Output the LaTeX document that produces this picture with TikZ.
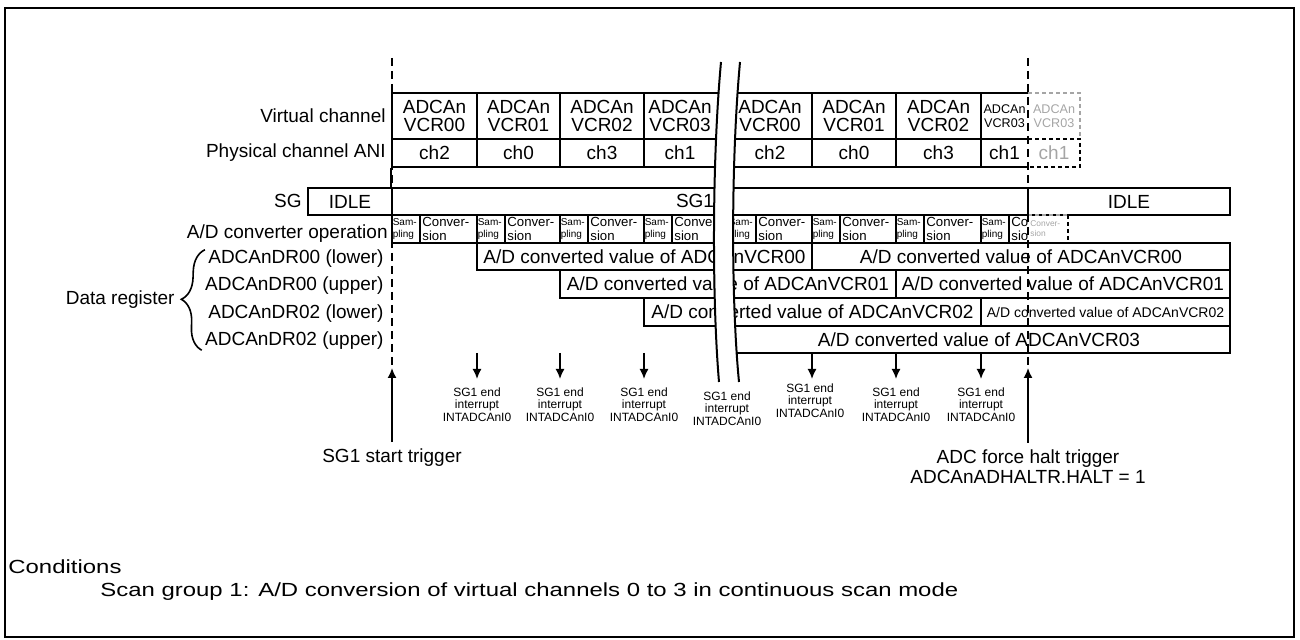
\documentclass[tikz,border=0pt]{standalone}
\usepackage{fontspec}
\setmainfont{Liberation Sans}
\usepackage{graphicx}
\usepackage{tikz}
\usetikzlibrary{arrows.meta,positioning,fit,decorations.pathreplacing}
\usepackage{xcolor}
\definecolor{ghostgray}{RGB}{165,165,165}
\newcommand{\widetxt}[1]{\scalebox{1.26}[1]{#1}}

\begin{document}
\begin{tikzpicture}[x=0.5pt,y=-0.5pt,>={Latex[length=5pt,width=4.5pt]},font=\fontsize{9.5}{11}\selectfont]
\tikzstyle{cell}=[draw,line width=1pt,inner sep=0pt]
\tikzstyle{ctext}=[inner sep=0pt,align=center,font=\fontsize{9.5}{8.6}\selectfont]
\tikzstyle{box}=[line width=1pt]
\tikzstyle{lbl}=[anchor=east,inner sep=0pt]
\tikzstyle{samp}=[anchor=west,inner xsep=0.7pt,inner ysep=0pt,align=left,font=\fontsize{5}{6}\selectfont]
\tikzstyle{conv}=[anchor=west,inner xsep=1.5pt,inner ysep=0pt,align=left,font=\fontsize{6.6}{6.8}\selectfont]
\tikzstyle{irq}=[anchor=north,inner sep=0pt,align=center,font=\fontsize{6}{6.3}\selectfont]
\tikzstyle{trig}=[line width=1pt,dash pattern=on 4pt off 2.5pt]
\tikzstyle{ghost}=[line width=1pt,ghostgray,dash pattern=on 2pt off 1.5pt]
\tikzstyle{ghostdark}=[line width=1pt,dash pattern=on 2pt off 1.5pt]
\tikzstyle{tinytext}=[ctext,font=\fontsize{6.3}{7}\selectfont]

\useasboundingbox (0,0) rectangle (1300,640);
\draw[box] (5,8) rectangle (1294,637);

% row labels
\node[lbl] (vclbl) at (386,116) {Virtual channel};
\node[lbl] (pclbl) at (386,153) {Physical channel ANI};
\node[lbl] (sglbl) at (302,201) {SG};
\node[lbl] (adlbl) at (388,234) {A/D converter operation};
\node[lbl] (dr0) at (384,259) {ADCAnDR00 (lower)};
\node[lbl] (dr1) at (384,286) {ADCAnDR00 (upper)};
\node[lbl] (dr2) at (384,314) {ADCAnDR02 (lower)};
\node[lbl] (dr3) at (384,341) {ADCAnDR02 (upper)};
\node[lbl] (drlbl) at (175,300) {Data register};
\draw[line width=0.8pt,decorate,decoration={brace,amplitude=11pt}] ([xshift=-1.5pt]dr3.south west) -- ([xshift=-1.5pt]dr0.north west);

% virtual / physical channels
\node[cell,fit={(392,93)(477,139)}] (v0) {};   \node[ctext] (v0t) at (v0) {ADCAn\\VCR00};
\node[cell,fit={(477,93)(560,139)}] (v1) {};   \node[ctext] (v1t) at (v1) {ADCAn\\VCR01};
\node[cell,fit={(560,93)(644,139)}] (v2) {};   \node[ctext] (v2t) at (v2) {ADCAn\\VCR02};
\node[cell,fit={(644,93)(728,139)}] (v3) {};   \node[ctext] (v3t) at (680,116) {ADCAn\\VCR03};
\node[cell,fit={(728,93)(812,139)}] (v4) {};   \node[ctext] (v4t) at (v4) {ADCAn\\VCR00};
\node[cell,fit={(812,93)(896,139)}] (v5) {};   \node[ctext] (v5t) at (v5) {ADCAn\\VCR01};
\node[cell,fit={(896,93)(981,139)}] (v6) {};   \node[ctext] (v6t) at (v6) {ADCAn\\VCR02};
\node[tinytext] (v7t) at (1004.5,116) {ADCAn\\VCR03};
\node[cell,fit={(392,139)(477,167)}] (c0) {};  \node[ctext] (c0t) at (c0) {ch2};
\node[cell,fit={(477,139)(560,167)}] (c1) {};  \node[ctext] (c1t) at (c1) {ch0};
\node[cell,fit={(560,139)(644,167)}] (c2) {};  \node[ctext] (c2t) at (c2) {ch3};
\node[cell,fit={(644,139)(728,167)}] (c3) {};  \node[ctext] (c3t) at (680,153) {ch1};
\node[cell,fit={(728,139)(812,167)}] (c4) {};  \node[ctext] (c4t) at (c4) {ch2};
\node[cell,fit={(812,139)(896,167)}] (c5) {};  \node[ctext] (c5t) at (c5) {ch0};
\node[cell,fit={(896,139)(981,167)}] (c6) {};  \node[ctext] (c6t) at (c6) {ch3};
\node[ctext] (c7t) at (1004.5,153) {ch1};
\draw[box] (1028,93) -| (981,167) -- (1028,167) (981,139) -- (1028,139);

% halted scan (grey)
\draw[ghost] (1028,93) -- (1080,93) -- (1080,139);
\draw[ghostdark] (1028,139) -- (1080,139) -- (1080,167) -- (1028,167);
\node[tinytext,text=ghostgray] (gv7) at (1054,116) {ADCAn\\VCR03};
\node[ctext,text=ghostgray] (gc7) at (1054,153) {ch1};

% scan group state
\node[cell,fit={(308,188)(392,215)}] (idle0) {};    \node[ctext] (idle0t) at (idle0) {IDLE};
\node[cell,fit={(392,188)(1028,215)}] (sg1) {};     \node[ctext] (sg1t) at (695,201) {SG1};
\node[cell,fit={(1028,188)(1230,215)}] (idle1) {};  \node[ctext] (idle1t) at (idle1) {IDLE};
\draw[box] (c0.south west) -- (sg1.north west);

% A/D converter operation
\foreach \a/\b/\c [count=\i] in {392/420/477,477/505/560,560/588/644,644/672/728,728/756/812,812/840/896,896/924/981}{
  \node[cell,fit={(\a,215)(\b,243)}] (sam\i) {};
  \node[cell,fit={(\b,215)(\c,243)}] (cnv\i) {};
  \node[samp] (samt\i) at (sam\i.west) {Sam-\\pling};
  \node[conv] (cnvt\i) at (cnv\i.west) {Conver-\\sion};
}
\node[cell,fit={(981,215)(1009,243)}] (sam8) {};
\node[samp] (samt8) at (sam8.west) {Sam-\\pling};
\draw[box] (1028,215) -- (1009,215) -- (1009,243) -- (1028,243);
\node[conv,inner xsep=1pt] (cnvt8) at (1009,229) {Co\\sio};
\draw[ghost] (1028,215) -- (1068,215);
\draw[ghostdark] (1068,215) -- (1068,243);
\draw[ghost] (1068,243) -- (1028,243);
\node[conv,inner xsep=0.5pt,text=ghostgray,font=\fontsize{4.2}{5}\selectfont] (gcnv) at (1029,229) {Conver-\\sion};

% data registers
\node[cell,fit={(477,243)(812,270)}] (d0a) {};   \node[ctext] (d0at) at (d0a) {A/D converted value of ADCAnVCR00};
\node[cell,fit={(812,243)(1230,270)}] (d0b) {};  \node[ctext] (d0bt) at (d0b) {A/D converted value of ADCAnVCR00};
\node[cell,fit={(560,270)(896,298)}] (d1a) {};   \node[ctext] (d1at) at (d1a) {A/D converted value of ADCAnVCR01};
\node[cell,fit={(896,270)(1230,298)}] (d1b) {};  \node[ctext] (d1bt) at (d1b) {A/D converted value of ADCAnVCR01};
\node[cell,fit={(644,298)(981,326)}] (d2a) {};   \node[ctext] (d2at) at (d2a) {A/D converted value of ADCAnVCR02};
\node[cell,fit={(981,298)(1230,326)}] (d2b) {};  \node[ctext,font=\fontsize{7}{8}\selectfont] (d2bt) at (d2b) {A/D converted value of ADCAnVCR02};
\node[cell,fit={(728,326)(1230,353)}] (d3) {};   \node[ctext] (d3t) at (d3) {A/D converted value of ADCAnVCR03};

% time break
\fill[white] (721,62) .. controls (712,160) and (712,300) .. (719,382) -- (739,382) .. controls (731,300) and (731,160) .. (740,62) -- cycle;
\draw[box] (721,62) .. controls (712,160) and (712,300) .. (719,382);
\draw[box] (740,62) .. controls (731,160) and (731,300) .. (739,382);

% end interrupts
\coordinate (q1) at (477,353); \coordinate (q2) at (560,353); \coordinate (q3) at (644,353);
\coordinate (q5) at (812,353); \coordinate (q6) at (896,353); \coordinate (q7) at (981,353);
\node[irq] (ir1) at (477,387) {SG1 end\\interrupt\\INTADCAnI0};
\node[irq] (ir2) at (560,387) {SG1 end\\interrupt\\INTADCAnI0};
\node[irq] (ir3) at (644,387) {SG1 end\\interrupt\\INTADCAnI0};
\node[irq] (ir4) at (727,391) {SG1 end\\interrupt\\INTADCAnI0};
\node[irq] (ir5) at (810,383) {SG1 end\\interrupt\\INTADCAnI0};
\node[irq] (ir6) at (896,387) {SG1 end\\interrupt\\INTADCAnI0};
\node[irq] (ir7) at (981,387) {SG1 end\\interrupt\\INTADCAnI0};
\draw[->,line width=0.8pt] (q1) -- (477,379); \draw[->,line width=0.8pt] (q2) -- (560,379); \draw[->,line width=0.8pt] (q3) -- (644,379);
\draw[->,line width=0.8pt] (q5) -- (812,379); \draw[->,line width=0.8pt] (q6) -- (896,379); \draw[->,line width=0.8pt] (q7) -- (981,379);

% triggers
\coordinate (st0) at (392,58); \coordinate (st1) at (392,368);
\coordinate (ht0) at (1028,58); \coordinate (ht1) at (1028,368);
\node (sttxt) at (392,458) {SG1 start trigger};
\node[align=center,font=\fontsize{9.5}{10}\selectfont] (halttxt) at (1028,467) {ADC force halt trigger\\ADCAnADHALTR.HALT = 1};
\draw[trig] (st0) -- (st1); \draw[trig] (ht0) -- (ht1);
\draw[->,line width=0.8pt] (sttxt) -- (st1);
\draw[->,line width=0.8pt] (halttxt) -- (ht1);

% conditions
\node[anchor=west,inner sep=0pt] (condh) at (8,567) {\widetxt{Conditions}};
\node[anchor=west,inner sep=0pt] (condb) at (100,592) {\widetxt{Scan group 1: A/D conversion of virtual channels 0 to 3 in continuous scan mode}};
\end{tikzpicture}
\end{document}
